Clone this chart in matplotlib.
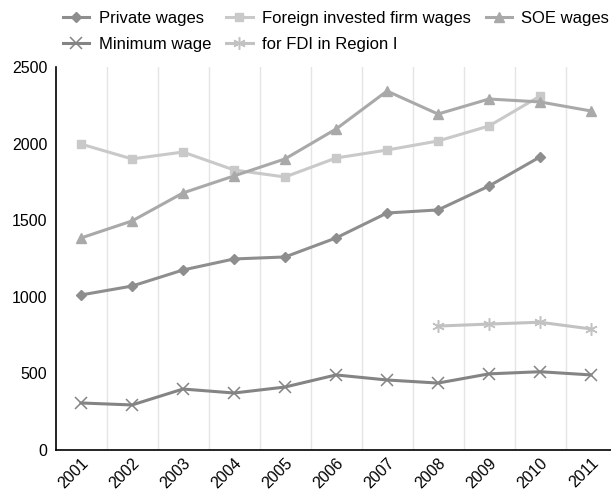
import matplotlib.pyplot as plt
import numpy as np

plt.rcParams['font.family'] = ['Liberation Sans', 'DejaVu Sans']

years = ['2001', '2002', '2003', '2004', '2005', '2006', '2007', '2008', '2009', '2010', '2011']
private = [1012, 1070, 1175, 1247, 1260, 1384, 1547, 1567, 1723, 1913, np.nan]
foreign = [1997, 1900, 1945, 1828, 1782, 1906, 1958, 2017, 2115, 2310, np.nan]
soe = [1384, 1495, 1678, 1789, 1900, 2095, 2343, 2193, 2291, 2272, 2213]
minimum = [307, 294, 398, 372, 411, 490, 457, 437, 497, 511, 490]
fdi_region1 = [np.nan] * 7 + [809, 822, 834, 790]

x = np.arange(len(years))

fig = plt.figure(figsize=(6.11, 4.94), dpi=100)
ax = fig.add_axes([55.5 / 611, 44 / 494, 561 / 611, 383 / 494])

l1, = ax.plot(x, private, color='#8e8e8e', lw=2.2, marker='D', ms=5, label='Private wages')
l2, = ax.plot(x, foreign, color='#c9c9c9', lw=2.2, marker='s', ms=6, label='Foreign invested firm wages')
l3, = ax.plot(x, soe, color='#a9a9a9', lw=2.2, marker='^', ms=7, label='SOE wages')
l4, = ax.plot(x, minimum, color='#848484', lw=2.2, marker='x', ms=8, mew=1.1, label='Minimum wage')
l5, = ax.plot(x, fdi_region1, color='#c2c2c2', lw=2.2, marker=(6, 2, 0), ms=9, mew=1.1,
              label='for FDI in Region I')

ax.set_xlim(-0.5, 10.5)
ax.set_ylim(0, 2500)
ax.set_yticks([0, 500, 1000, 1500, 2000, 2500])
ax.set_xticks(x)
ax.set_xticklabels(years, rotation=45, ha='right', rotation_mode='anchor')
ax.set_xticks(np.arange(0.5, 10.5, 1), minor=True)
ax.grid(True, which='minor', axis='x', color='#e5e5e5', lw=1)
ax.tick_params(axis='both', which='both', length=0, labelsize=11.5, pad=6)
ax.tick_params(axis='x', pad=4)

for s in ['top', 'right']:
    ax.spines[s].set_visible(False)
ax.spines['left'].set_linewidth(1.2)
ax.spines['bottom'].set_linewidth(1.2)

fig.legend(handles=[l1, l4, l2, l5, l3], ncol=3, loc='upper left',
           bbox_to_anchor=(56 / 611, 1 - 4 / 494), borderaxespad=0, frameon=False,
           fontsize=12, handlelength=1.6, handletextpad=0.55, columnspacing=0.9,
           labelspacing=0.7)

fig.savefig('out.png', dpi=100)
